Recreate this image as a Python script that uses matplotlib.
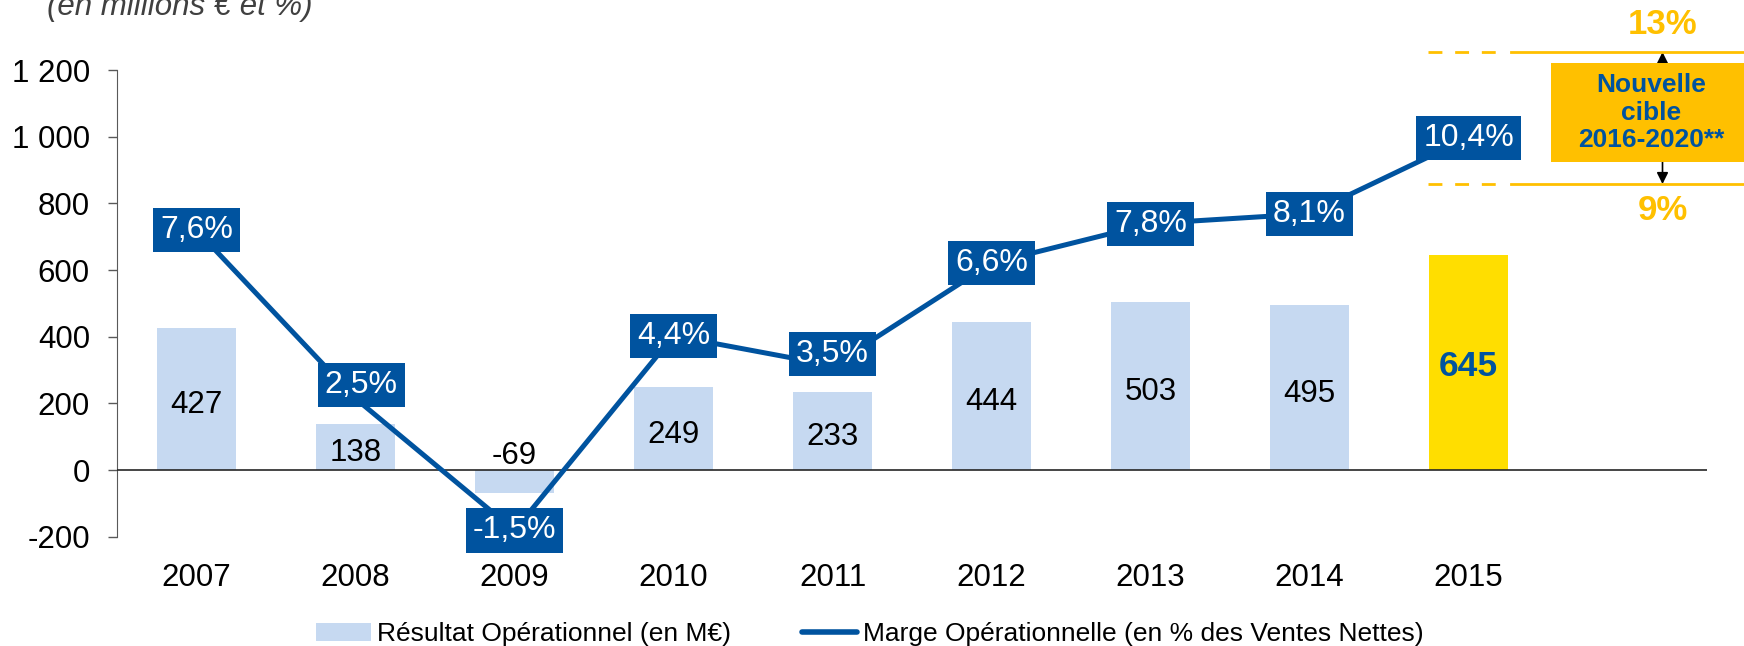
import matplotlib
matplotlib.use("Agg")
import matplotlib.pyplot as plt
from matplotlib.patches import Patch, Rectangle
from matplotlib.lines import Line2D

plt.rcParams["font.family"] = ["Liberation Sans", "DejaVu Sans"]

# data
YEARS = ["2007", "2008", "2009", "2010", "2011", "2012", "2013", "2014", "2015"]
RESULT = [427, 138, -69, 249, 233, 444, 503, 495, 645]          # M€
MARGIN = [7.6, 2.5, -1.5, 4.4, 3.5, 6.6, 7.8, 8.1, 10.4]        # % of net sales
TARGET_LOW = 9
TARGET_HIGH = 13
Y_TICKS = [-200, 0, 200, 400, 600, 800, 1000, 1200]

BLUE = "#00539F"
LIGHT_BLUE = "#C6D9F1"
YELLOW = "#FFDE00"
ORANGE = "#FFC000"


def fr_pct(v):
    return f"{v:.1f}".replace(".", ",") + "%"


def fr_int(v):
    return f"{v:,}".replace(",", " ")


fig = plt.figure(figsize=(17.44, 6.46), dpi=100)
ax = fig.add_axes([0.0671, 0.1692, 0.9117, 0.7224])
ax2 = ax.twinx()

x = list(range(len(YEARS)))
colors = [LIGHT_BLUE] * (len(YEARS) - 1) + [YELLOW]
ax.bar(x, RESULT, width=0.5, color=colors, zorder=2)
ax.axhline(0, color="#262626", lw=1.2, zorder=3)

ax.set_xlim(-0.5, 9.5)
ax.set_ylim(-200, 1200)
ax.set_yticks(Y_TICKS)
ax.set_yticklabels([fr_int(v) for v in Y_TICKS])
ax.set_xticks(x)
ax.set_xticklabels(YEARS)
ax.tick_params(axis="y", labelsize=22.5, length=6.5, width=1, color="#595959", pad=13)
ax.tick_params(axis="x", labelsize=22.5, length=0, pad=19)
for side in ("top", "right", "bottom"):
    ax.spines[side].set_visible(False)
ax.spines["left"].set_color("#595959")
ax.spines["left"].set_bounds(-200, 1200)

# bar values
for i, v in enumerate(RESULT):
    if i == len(RESULT) - 1:
        ax.annotate(fr_int(v), (i, v / 2), xytext=(0, -2.5), textcoords="offset points",
                    ha="center", va="center", fontsize=25.5, fontweight="bold",
                    color=BLUE, zorder=4)
    elif v < 0:
        ax.annotate(fr_int(v), (i, 0), xytext=(0, -1), textcoords="offset points",
                    ha="center", va="bottom", fontsize=22.5, zorder=4)
    else:
        ax.annotate(fr_int(v), (i, v / 2), xytext=(0, -4.5), textcoords="offset points",
                    ha="center", va="center", fontsize=22.5, zorder=4)

# margin line on its own scale
ax2.set_ylim(-1.688, 12.455)
ax2.set_axis_off()
ax2.plot(x, MARGIN, color=BLUE, lw=3.6, zorder=3)

label_shift = {1: (4, 9.4), 4: (0, 8)}
for i, v in enumerate(MARGIN):
    dx, dy = label_shift.get(i, (0, 0))
    ax2.annotate(fr_pct(v), (i, v), xytext=(dx, dy), textcoords="offset points",
                 ha="center", va="center", fontsize=23, color="white", zorder=5,
                 bbox=dict(boxstyle="square,pad=0.22", fc=BLUE, ec="none"))

# 2016-2020 target band
for t in (TARGET_LOW, TARGET_HIGH):
    ax2.plot([7.745, 8.18], [t, t], color=ORANGE, lw=2, ls=(0, (5, 4.6)),
             clip_on=False, zorder=3)
    ax2.plot([8.27, 9.9], [t, t], color=ORANGE, lw=2, clip_on=False, zorder=3)

ax2.annotate("", xy=(9.22, TARGET_HIGH), xytext=(9.22, TARGET_LOW),
             arrowprops=dict(arrowstyle="<|-|>", color="black", lw=1.2,
                             mutation_scale=17, shrinkA=0, shrinkB=0),
             annotation_clip=False, zorder=2)
ax2.add_patch(Rectangle((8.52, 9.667), 1.5, 3.0, fc=ORANGE, ec="none",
                        clip_on=False, zorder=4))
ax2.text(9.15, 11.167, "Nouvelle\ncible\n2016-2020**",
         ha="center", va="center", fontsize=19, fontweight="bold", color=BLUE,
         linespacing=1.2, zorder=5, clip_on=False)
ax2.annotate(f"{TARGET_HIGH}%", (9.22, TARGET_HIGH), xytext=(0, 19.5),
             textcoords="offset points", ha="center", va="center", fontsize=25,
             fontweight="bold", color=ORANGE, annotation_clip=False)
ax2.annotate(f"{TARGET_LOW}%", (9.22, TARGET_LOW), xytext=(0, -18.7),
             textcoords="offset points", ha="center", va="center", fontsize=25,
             fontweight="bold", color=ORANGE, annotation_clip=False)

fig.text(0.027, 1 - 15 / 646, "(en millions € et %)", ha="left", va="baseline",
         fontsize=22.5, style="italic", color="#404040")

handles = [
    Patch(facecolor=LIGHT_BLUE, edgecolor="none"),
    Line2D([0], [0], color=BLUE, lw=4, solid_capstyle="round"),
]
fig.legend(handles, ["Résultat Opérationnel (en M€)",
                     "Marge Opérationnelle (en % des Ventes Nettes)"],
           loc="center", bbox_to_anchor=(0.4986, 0.0186), ncol=2, frameon=False,
           fontsize=19, handlelength=2.1, handletextpad=0.2, columnspacing=2.7,
           borderaxespad=0, borderpad=0)

fig.savefig("out.png", dpi=100)
